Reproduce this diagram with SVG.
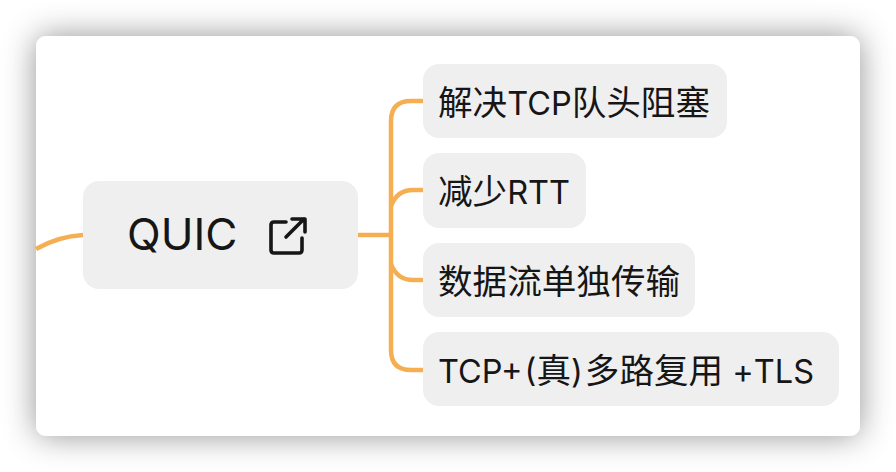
<svg xmlns="http://www.w3.org/2000/svg" width="896" height="472" viewBox="0 0 896 472">
<style>
.n{fill:#efeff0}
.t{font-family:Inter,"Noto Sans CJK SC",sans-serif;font-size:34.6px;fill:#161616}
.l{font-size:32.5px}
.q{font-size:44px}
.c{fill:none;stroke:#f5ae52;stroke-width:4.5;stroke-linecap:butt}
</style>
<defs><filter id="s" x="-15%" y="-25%" width="130%" height="150%"><feDropShadow dx="0" dy="0" stdDeviation="16" flood-color="#000" flood-opacity="0.42"/></filter></defs>
<rect id="card" x="36" y="36" width="824" height="400" rx="10" fill="#fff" filter="url(#s)"/>
<g id="connectors">
<path class="c" d="M36 249C50 241 65 236 83 235"/>
<path class="c" d="M358 235H391"/>
<path class="c" d="M423 101H411Q391 101 391 121V350Q391 370 411 370H423"/>
<path class="c" d="M423 190H413Q397 190 391 206"/>
<path class="c" d="M423 280H413Q397 280 391 264"/>
</g>
<g id="node-quic"><rect class="n" x="83" y="181" width="275" height="108" rx="16"/>
<text class="t q" x="127" y="250">QUIC</text>
<g fill="none" stroke="#161616" stroke-width="3.6" stroke-linecap="round" stroke-linejoin="round"><path d="M286 222H274Q271 222 271 225V250Q271 253 274 253H299Q302 253 302 250V238"/><path d="M286 237L304 219M292 219H305V232"/></g></g>
<g id="node-1"><rect class="n" x="423" y="64" width="304" height="74" rx="16"/><text class="t" x="438" y="115">解决<tspan class="l">TCP</tspan>队头阻塞</text></g>
<g id="node-2"><rect class="n" x="423" y="153" width="163" height="75" rx="16"/><text class="t" x="438" y="204">减少<tspan class="l">RTT</tspan></text></g>
<g id="node-3"><rect class="n" x="423" y="243" width="272" height="74" rx="16"/><text class="t" x="438" y="294">数据流单独传输</text></g>
<g id="node-4"><rect class="n" x="423" y="332" width="416" height="74" rx="16"/><text class="t" x="438" y="383"><tspan class="l">TCP+</tspan><tspan class="l" dx="2">(</tspan>真<tspan class="l">)</tspan><tspan dx="2">多路复用</tspan><tspan class="l"> +TLS</tspan></text></g>
</svg>
